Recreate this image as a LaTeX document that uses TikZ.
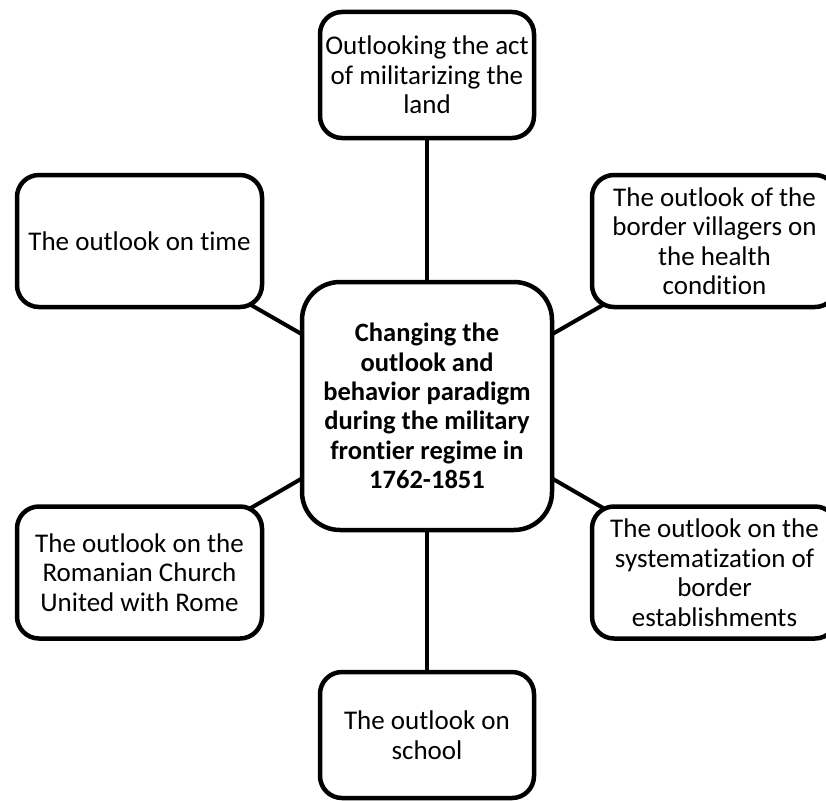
\documentclass[tikz,border=0pt]{standalone}
\usepackage{fontspec}
\setmainfont[Ligatures=NoCommon]{Carlito}
\usetikzlibrary{backgrounds}

\begin{document}
\begin{tikzpicture}[x=1pt,y=-1pt,
  box/.style={draw,line width=4.5pt,rounded corners=22pt,fill=white,align=center,
    inner sep=0pt,minimum width=245pt,minimum height=132pt,
    font=\fontsize{27}{29.5}\selectfont},
  hub/.style={box,rounded corners=38pt,minimum width=250pt,minimum height=248pt,
    font=\bfseries\fontsize{26.5}{29.3}\selectfont},
  link/.style={line width=4pt}]
  \useasboundingbox (0,0) rectangle (826,800);
  \clip (0,0) rectangle (826,800);

  \node[hub] (paradigm) at (427,406) {Changing the\\outlook and\\behavior paradigm\\during the military\\frontier regime in\\1762-1851};

  \node[box,minimum width=214pt,minimum height=126pt] (land) at (427,75) {Outlooking the act\\of militarizing the\\land};
  \node[box,minimum width=214pt,minimum height=126pt] (school) at (427,735) {The outlook on\\school};

  \node[box] (time) at (139.5,241) {The outlook on time};
  \node[box] (health) at (714.5,241) {The outlook of the\\border villagers on\\the health\\condition};
  \node[box] (church) at (139.5,572.5) {The outlook on the\\Romanian Church\\United with Rome};
  \node[box] (establish) at (714.5,572.5) {The outlook on the\\systematization of\\border\\establishments};

  \begin{scope}[on background layer]
    \foreach \n in {land,time,health,church,establish,school} {
      \draw[link] (paradigm.center) -- (\n.center);
    }
  \end{scope}
\end{tikzpicture}
\end{document}
